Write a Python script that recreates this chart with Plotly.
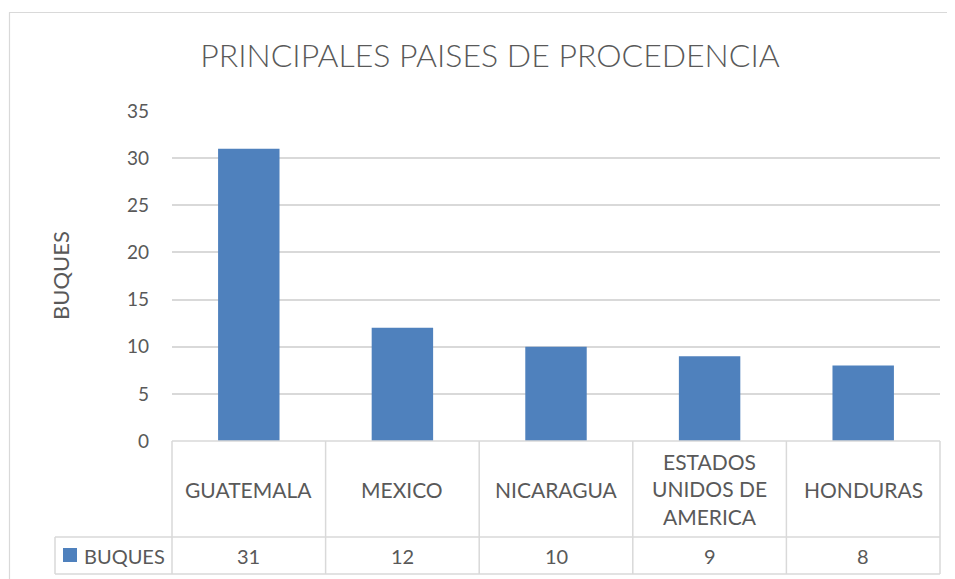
import plotly.graph_objects as go

categories = ["GUATEMALA", "MEXICO", "NICARAGUA", "ESTADOS UNIDOS DE AMERICA", "HONDURAS"]
category_labels = ["GUATEMALA", "MEXICO", "NICARAGUA", "ESTADOS<br>UNIDOS DE<br>AMERICA", "HONDURAS"]
buques = [31, 12, 10, 9, 8]
series_name = "BUQUES"
y_ticks = [0, 5, 10, 15, 20, 25, 30, 35]
title_text = "PRINCIPALES PAISES DE PROCEDENCIA"

OFF = 8  # page body margin
W, H = 955 - OFF, 579 - OFF
L, R, T, B = 172 - OFF, 955 - 940, 111 - OFF, 579 - 441
PW = W - L - R
PH = H - T - B

FONT = "Lato"
TXT = "#595959"
GRID = "#d9d9d9"
BAR = "#4f81bd"


def px_x(px):
    # screenshot pixel -> paper x
    return (px - OFF - L) / PW


def px_y(py):
    # screenshot pixel -> paper y
    return (H - B - (py - OFF)) / PH


fig = go.Figure()
fig.add_trace(go.Bar(
    x=categories, y=buques, name=series_name,
    marker=dict(color=BAR, line=dict(width=0)),
    width=0.4, showlegend=False, hoverinfo="x+y",
))

n = len(categories)
shapes = []
# outer chart border
shapes.append(dict(type="rect", xref="paper", yref="paper",
                   x0=px_x(9.5), x1=px_x(975), y0=px_y(12.5), y1=px_y(600),
                   line=dict(color=GRID, width=1.2), layer="below"))
row1 = px_y(537)
row2 = px_y(574)
legend_left = px_x(55)
# horizontal lines of the data table
shapes.append(dict(type="line", xref="paper", yref="paper", x0=0, x1=1, y0=0, y1=0,
                   line=dict(color=GRID, width=1.5)))
for yy in (row1, row2):
    shapes.append(dict(type="line", xref="paper", yref="paper", x0=legend_left, x1=1,
                       y0=yy, y1=yy, line=dict(color=GRID, width=1.5)))
# vertical lines at category boundaries
for i in range(n + 1):
    xx = i / n
    shapes.append(dict(type="line", xref="paper", yref="paper", x0=xx, x1=xx,
                       y0=0, y1=row2, line=dict(color=GRID, width=1.5)))
shapes.append(dict(type="line", xref="paper", yref="paper", x0=legend_left, x1=legend_left,
                   y0=row1, y1=row2, line=dict(color=GRID, width=1.5)))
# legend key square
shapes.append(dict(type="rect", xref="paper", yref="paper",
                   x0=px_x(63), x1=px_x(77), y0=px_y(562), y1=px_y(548),
                   fillcolor=BAR, line=dict(width=0)))

annotations = []
head_mid = px_y(489)
val_mid = px_y(555.5)
for cat, lab, v in zip(categories, category_labels, buques):
    annotations.append(dict(x=cat, xref="x", y=head_mid, yref="paper", text=lab,
                            showarrow=False, font=dict(family=FONT, size=21, color=TXT),
                            xanchor="center", yanchor="middle"))
    annotations.append(dict(x=cat, xref="x", y=val_mid, yref="paper", text=str(v),
                            showarrow=False, font=dict(family=FONT, size=20, color=TXT),
                            xanchor="center", yanchor="middle"))
annotations.append(dict(x=px_x(82), xref="paper", y=val_mid, yref="paper", text=series_name,
                        showarrow=False, font=dict(family=FONT, size=20, color=TXT),
                        xanchor="left", yanchor="middle"))
annotations.append(dict(x=px_x(60), xref="paper", y=px_y(276), yref="paper", text=series_name,
                        showarrow=False, textangle=-90,
                        font=dict(family=FONT, size=22, color=TXT),
                        xanchor="center", yanchor="middle"))

fig.update_layout(
    width=W, height=H,
    margin=dict(l=L, r=R, t=T, b=B, pad=0),
    paper_bgcolor="white", plot_bgcolor="white",
    title=dict(text=title_text, x=(490 - OFF) / W, xref="container", xanchor="center",
               y=1 - (56 - OFF) / H, yref="container", yanchor="middle",
               font=dict(family=FONT, size=32, color=TXT, weight=300)),
    xaxis=dict(showticklabels=False, showgrid=False, zeroline=False, showline=False,
               ticks="", range=[-0.5, n - 0.5]),
    yaxis=dict(range=[0, 35], tickvals=y_ticks, showgrid=True, gridcolor=GRID, gridwidth=1.5,
               zeroline=False, showline=False, ticks="", ticklabelstandoff=22,
               tickfont=dict(family=FONT, size=19, color=TXT)),
    shapes=shapes, annotations=annotations,
    bargap=0.6, font=dict(family=FONT, color=TXT),
)

fig.write_html("out.html")
